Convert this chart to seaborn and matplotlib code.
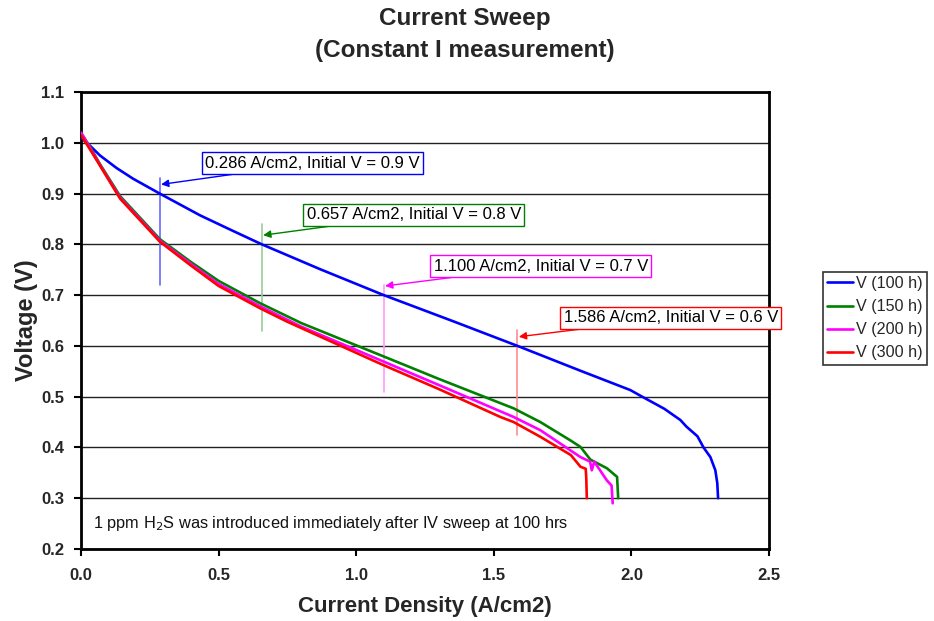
import numpy as np
import pandas as pd
import matplotlib
matplotlib.use("Agg")
import matplotlib.pyplot as plt
import seaborn as sns

# ---- data ----
x_100 = [0.0, 0.035, 0.069, 0.13, 0.19, 0.286, 0.433, 0.55, 0.657, 0.869, 1.1, 1.35, 1.586, 1.815, 1.996,
         2.039, 2.12, 2.178, 2.2, 2.24, 2.262, 2.287, 2.305, 2.312, 2.315]
v_100 = [1.01, 0.993, 0.975, 0.95, 0.929, 0.90, 0.857, 0.827, 0.80, 0.751, 0.70, 0.649, 0.60, 0.551, 0.513,
         0.50, 0.476, 0.454, 0.441, 0.422, 0.40, 0.381, 0.355, 0.33, 0.30]

x_150 = [0.0, 0.035, 0.069, 0.142, 0.287, 0.4, 0.5, 0.651, 0.8, 1.087, 1.3, 1.572, 1.669, 1.778, 1.815,
         1.851, 1.911, 1.948, 1.952]
v_150 = [1.02, 0.99, 0.958, 0.895, 0.81, 0.765, 0.728, 0.684, 0.645, 0.582, 0.535, 0.477, 0.45, 0.414,
         0.401, 0.376, 0.359, 0.342, 0.30]

x_200 = [0.0, 0.035, 0.069, 0.142, 0.287, 0.4, 0.5, 0.651, 0.8, 1.087, 1.3, 1.572, 1.669, 1.815, 1.85,
         1.856, 1.865, 1.911, 1.928, 1.932]
v_200 = [1.02, 0.988, 0.956, 0.892, 0.807, 0.761, 0.722, 0.678, 0.638, 0.572, 0.523, 0.46, 0.434, 0.381,
         0.372, 0.355, 0.372, 0.335, 0.325, 0.29]

x_300 = [0.0, 0.035, 0.069, 0.142, 0.287, 0.4, 0.5, 0.651, 0.748, 1.087, 1.3, 1.524, 1.572, 1.669, 1.78,
         1.815, 1.834, 1.836, 1.838]
v_300 = [1.015, 0.985, 0.955, 0.89, 0.805, 0.758, 0.718, 0.674, 0.648, 0.565, 0.515, 0.46, 0.45, 0.421,
         0.385, 0.362, 0.358, 0.34, 0.30]

series_labels = ["V (100 h)", "V (150 h)", "V (200 h)", "V (300 h)"]
series_colors = ["#0000ff", "#008000", "#ff00ff", "#ff0000"]
marker_colors = ["#6a6aff", "#99cc99", "#ff99ff", "#ff8c8c"]

ann_x = [0.286, 0.657, 1.100, 1.586]
ann_v = [0.9, 0.8, 0.7, 0.6]
ann_text = ["0.286 A/cm2, Initial V = 0.9 V", "0.657 A/cm2, Initial V = 0.8 V",
            "1.100 A/cm2, Initial V = 0.7 V", "1.586 A/cm2, Initial V = 0.6 V"]
ann_vline = [(0.72, 0.93), (0.63, 0.84), (0.51, 0.72), (0.424, 0.631)]
ann_box_xy = [(0.452, 0.96), (0.82, 0.858), (1.281, 0.757), (1.754, 0.655)]  # text left / centre

yticks = [0.2, 0.3, 0.4, 0.5, 0.6, 0.7, 0.8, 0.9, 1.0, 1.1]
xticks = [0.0, 0.5, 1.0, 1.5, 2.0, 2.5]

# ---- style ----
sns.set_style("white")
plt.rcParams['font.family'] = ['Liberation Sans', 'DejaVu Sans']

fig = plt.figure(figsize=(9.34, 6.21), dpi=100)
ax = fig.add_axes([81/934, 1-549/621, (769-81)/934, (549-92)/621])

frames = []
for xs, vs, lab in zip([x_100, x_150, x_200, x_300], [v_100, v_150, v_200, v_300], series_labels):
    frames.append(pd.DataFrame({"x": xs, "v": vs, "series": lab}))
df = pd.concat(frames, ignore_index=True)

# horizontal grid lines
for yt in yticks:
    ax.axhline(yt, color="#222222", lw=1.0, zorder=0)

# marker vertical lines
for xv, (lo, hi), c in zip(ann_x, ann_vline, marker_colors):
    ax.plot([xv, xv], [lo, hi], color=c, lw=1.2, zorder=1)

sns.lineplot(data=df, x="x", y="v", hue="series", palette=series_colors, sort=False,
             estimator=None, lw=1.9, ax=ax, zorder=3)

ax.set_xlim(0, 2.5)
ax.set_ylim(0.2, 1.1)
ax.set_xticks(xticks)
ax.set_xticklabels([f"{t:.1f}" for t in xticks], fontweight="bold", fontsize=12)
ax.set_yticks(yticks)
ax.set_yticklabels([f"{t:.1f}" for t in yticks], fontweight="bold", fontsize=12)
ax.tick_params(axis="both", direction="out", length=5, width=1.5, color="black", left=True, bottom=True)
ax.tick_params(axis="x", pad=9)
ax.tick_params(axis="y", pad=7)
for s in ax.spines.values():
    s.set_color("black")
    s.set_linewidth(2.0)

ax.set_xlabel("Current Density (A/cm2)", fontweight="heavy", fontsize=16, labelpad=9)
ax.set_ylabel("Voltage (V)", fontweight="heavy", fontsize=17, labelpad=2)

fig.text(0.498, 0.970, "Current Sweep", ha="center", va="center", fontweight="heavy", fontsize=17.5)
fig.text(0.498, 0.918, "(Constant I measurement)", ha="center", va="center", fontweight="heavy", fontsize=17.5)

# annotations
for (bx, by), txt, xv, vv, c in zip(ann_box_xy, ann_text, ann_x, ann_v, series_colors):
    ax.annotate(txt, xy=(xv + 0.005, vv + 0.018), xytext=(bx, by),
                textcoords="data", ha="left", va="center", fontsize=12, color="black",
                bbox=dict(boxstyle="square,pad=0.2", fc="white", ec=c, lw=1.0),
                arrowprops=dict(arrowstyle="-|>", color=c, lw=1.0, mutation_scale=11,
                                shrinkA=0, shrinkB=0),
                annotation_clip=False, zorder=5)

ax.text(0.043, 0.251, "1 ppm H$_2$S was introduced immediately after IV sweep at 100 hrs",
        fontsize=11.8, ha="left", va="center", color="#111111")

# legend
handles, labels = ax.get_legend_handles_labels()
leg = ax.legend(handles, labels, loc="center left", bbox_to_anchor=(1.078, 0.505), frameon=True,
                fancybox=False, edgecolor="black", fontsize=11.6, handlelength=1.6,
                handletextpad=0.2, labelspacing=0.5, borderpad=0.28, borderaxespad=0)
leg.get_frame().set_linewidth(1.2)

fig.savefig("out.png", dpi=100, facecolor="white")
